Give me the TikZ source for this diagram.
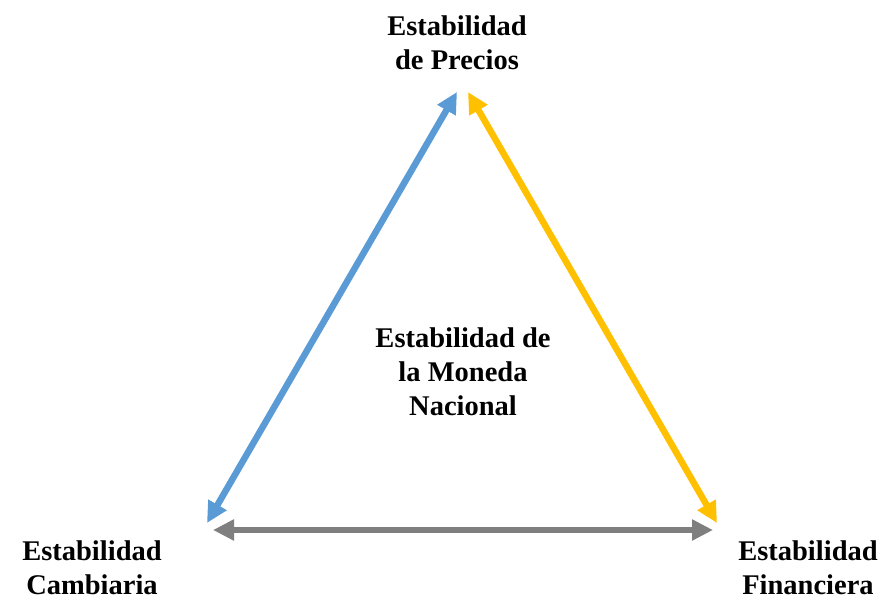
\documentclass[tikz,border=0pt]{standalone}
\usepackage{fontspec}
\setmainfont{Liberation Serif}
\usetikzlibrary{arrows.meta}
\definecolor{cblue}{HTML}{5B9BD5}
\definecolor{cyellow}{HTML}{FFC000}
\definecolor{cgray}{HTML}{7F7F7F}
\tikzset{
  lbl/.style={font=\bfseries\fontsize{28.5}{34}\selectfont, align=center, inner sep=0pt, text=black},
  dbl/.style={line width=6.5pt, {Triangle[length=21pt,width=20pt]}-{Triangle[length=21pt,width=20pt]}}
}
\begin{document}
\begin{tikzpicture}[x=1pt,y=-1pt]
\useasboundingbox (0,0) rectangle (882,599);
\node[lbl] (precios) at (457,43) {Estabilidad\\de Precios};
\node[lbl] (moneda) at (463,372) {Estabilidad de\\la Moneda\\Nacional};
\node[lbl] (cambiaria) at (92,568) {Estabilidad\\Cambiaria};
\node[lbl] (financiera) at (808,568) {Estabilidad\\Financiera};
\coordinate (bt) at (457,92);
\coordinate (bb) at (207,523);
\coordinate (yt) at (468,92);
\coordinate (yb) at (717,523);
\coordinate (gl) at (213,530);
\coordinate (gr) at (713,530);
\draw[dbl, cblue] (bt) -- (bb);
\draw[dbl, cyellow] (yt) -- (yb);
\draw[dbl, cgray] (gl) -- (gr);
\end{tikzpicture}
\end{document}
